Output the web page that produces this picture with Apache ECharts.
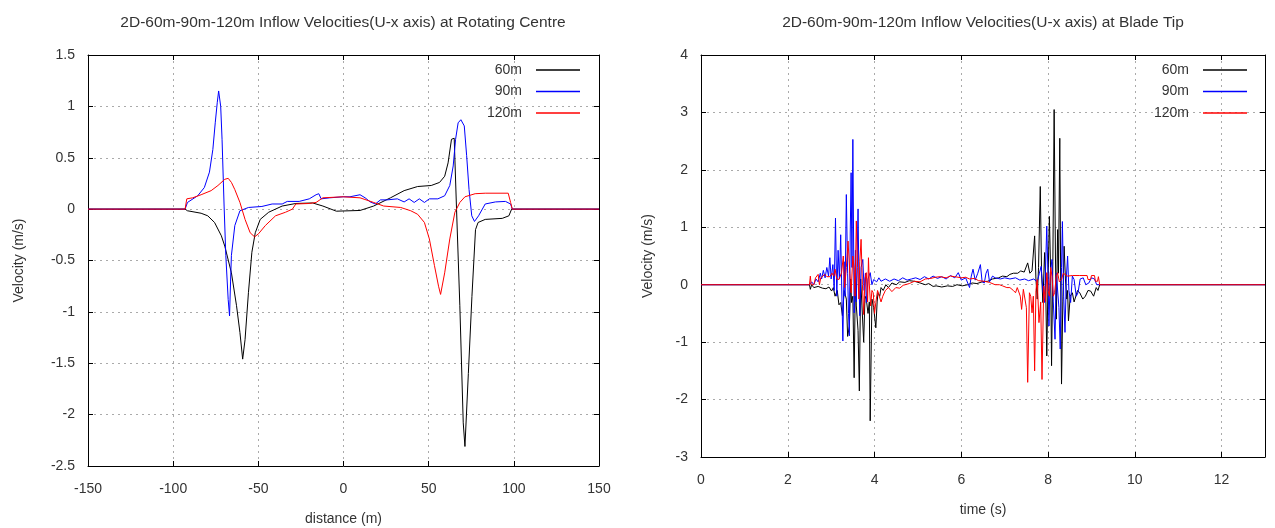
<!DOCTYPE html>
<html>
<head>
<meta charset="utf-8">
<script src="https://cdn.jsdelivr.net/npm/echarts@6/dist/echarts.min.js"></script>
<style>html,body{margin:0;padding:0;background:#fff}#c{width:1275px;height:528px}</style>
</head>
<body>
<div id="c"></div>
<script>
// ---------- DATA ----------
const seriesNames = ['60m', '90m', '120m'];
const titleLeft = '2D-60m-90m-120m Inflow Velocities(U-x axis) at Rotating Centre';
const titleRight = '2D-60m-90m-120m Inflow Velocities(U-x axis) at Blade Tip';

// Left chart: [distance (m), velocity (m/s)]
const centre60 = [[-150,0],[-93,0],[-91.6,-0.016],[-83.6,-0.04],[-79.7,-0.065],[-75.7,-0.13],[-71.7,-0.26],[-69.7,-0.36],[-65.8,-0.62],[-62.8,-0.94],[-60.8,-1.2],[-59.2,-1.46],[-57.8,-1.27],[-55.8,-0.81],[-53.8,-0.42],[-51.8,-0.23],[-48.9,-0.1],[-43.9,-0.03],[-36,0.03],[-28,0.055],[-18.1,0.06],[-12.1,0.03],[-4.2,-0.02],[9.7,-0.013],[17.7,0.03],[27.6,0.11],[35.6,0.18],[43.5,0.22],[51.5,0.23],[56.4,0.26],[59.4,0.32],[61.4,0.45],[63.4,0.68],[65,0.69],[66.3,0.03],[68.3,-0.94],[70.3,-2.08],[71.3,-2.31],[73.3,-1.6],[75.4,-0.85],[77.5,-0.2],[79,-0.13],[83.2,-0.1],[93.2,-0.09],[97.1,-0.065],[98.7,0],[150,0]];
const centre90 = [[-150,0],[-93,0],[-91.6,0.065],[-85.6,0.13],[-81.7,0.21],[-78.7,0.36],[-76.7,0.58],[-75.3,0.84],[-74.1,1.04],[-73.3,1.15],[-72.1,1.0],[-71.3,0.68],[-70.1,0.03],[-69.1,-0.45],[-67.7,-0.88],[-66.9,-1.04],[-66.3,-0.7],[-65.8,-0.45],[-63.8,-0.16],[-60.8,-0.016],[-55.8,0.016],[-47.9,0.026],[-41.9,0.05],[-36,0.05],[-33,0.075],[-26,0.075],[-20.1,0.1],[-16.1,0.14],[-14.5,0.15],[-13.1,0.1],[-8.1,0.11],[-0.2,0.12],[3.8,0.12],[9.7,0.14],[12.7,0.11],[15.7,0.07],[18.7,0.05],[21.7,0.09],[25.6,0.09],[31.6,0.1],[35.6,0.07],[38.5,0.1],[41.5,0.065],[44.5,0.1],[47.5,0.065],[50.4,0.1],[55.4,0.1],[59.4,0.13],[62.4,0.23],[64.4,0.42],[65.8,0.68],[67.3,0.84],[68.9,0.87],[70.9,0.81],[72.3,0.52],[73.7,0.19],[75.3,-0.065],[76.9,-0.12],[79.3,-0.065],[83.2,0.05],[89.2,0.07],[95.1,0.075],[98.1,0.05],[99.1,0],[150,0]];
const centre120 = [[-150,0],[-93,0],[-92,0.1],[-88.6,0.11],[-83.6,0.14],[-77.7,0.18],[-73.7,0.23],[-69.7,0.29],[-67.7,0.3],[-65.8,0.26],[-63.8,0.19],[-60.8,0.065],[-57.8,-0.1],[-54.8,-0.23],[-52.2,-0.27],[-49.9,-0.24],[-45.9,-0.16],[-39.9,-0.065],[-34,-0.03],[-30,0],[-28,0.05],[-20.1,0.055],[-16.1,0.065],[-12.1,0.11],[-0.2,0.12],[9.7,0.11],[17.7,0.065],[23.6,0.03],[33.6,0.016],[39.5,-0.016],[43.5,-0.05],[47.5,-0.13],[50.4,-0.29],[53.4,-0.55],[55.8,-0.75],[57,-0.83],[59.4,-0.62],[62.4,-0.29],[65.4,-0.03],[68.3,0.065],[71.3,0.12],[77.3,0.15],[83.2,0.155],[96.7,0.155],[98.1,0.065],[99.1,0],[150,0]];

// Right chart: [time (s), velocity (m/s)]
const tip60 = [[0,0],[2.5,0],[2.52,-0.08],[2.55,0],[2.6,-0.05],[2.7,-0.03],[2.8,-0.06],[2.88,-0.07],[2.95,-0.04],[3.01,-0.11],[3.05,-0.05],[3.09,-0.2],[3.14,-0.1],[3.18,-0.35],[3.22,-0.31],[3.26,-0.54],[3.3,-0.1],[3.35,-0.25],[3.38,-0.9],[3.42,-0.72],[3.45,0.1],[3.47,-0.31],[3.5,-0.2],[3.53,-1.62],[3.56,0.2],[3.58,-0.37],[3.62,-0.8],[3.65,-1.85],[3.68,0.1],[3.71,-0.37],[3.75,-1.0],[3.78,-0.2],[3.81,-0.25],[3.85,-0.5],[3.88,-0.3],[3.9,-2.37],[3.94,-0.25],[3.98,-0.4],[4.03,-0.75],[4.06,-0.3],[4.08,-0.14],[4.12,-0.2],[4.15,-0.05],[4.2,-0.1],[4.26,0.0],[4.32,-0.05],[4.4,0.03],[4.5,0.0],[4.58,0.05],[4.7,0.04],[4.8,0.07],[4.92,0.06],[5.05,0.03],[5.17,0.0],[5.25,0.02],[5.35,-0.03],[5.42,-0.02],[5.55,-0.04],[5.68,-0.02],[5.8,-0.03],[5.9,0.0],[6.02,-0.02],[6.15,0.0],[6.25,0.03],[6.36,0.02],[6.48,0.05],[6.61,0.06],[6.72,0.1],[6.86,0.12],[6.95,0.15],[7.05,0.14],[7.12,0.18],[7.2,0.2],[7.3,0.2],[7.37,0.24],[7.45,0.22],[7.53,0.38],[7.58,0.2],[7.63,0.24],[7.69,0.85],[7.72,0.1],[7.75,-0.25],[7.78,0.3],[7.82,1.71],[7.85,0.2],[7.88,-0.31],[7.92,0.56],[7.94,0.2],[7.97,-1.24],[8.0,0.1],[8.03,1.19],[8.06,0.2],[8.08,-1.41],[8.11,0.4],[8.14,3.05],[8.17,0.5],[8.19,-0.6],[8.22,0.96],[8.24,0.2],[8.27,2.55],[8.29,0.1],[8.31,-1.73],[8.34,-0.3],[8.37,0.67],[8.4,0.1],[8.43,-0.25],[8.45,-0.1],[8.47,-0.63],[8.51,-0.2],[8.56,-0.14],[8.6,-0.3],[8.64,-0.28],[8.68,-0.1],[8.73,-0.14],[8.8,-0.25],[8.86,-0.2],[8.92,-0.1],[8.98,-0.11],[9.05,-0.2],[9.11,-0.05],[9.15,-0.1],[9.19,0],[13,0]];
const tip90 = [[0,0],[2.5,0],[2.55,0.05],[2.6,0],[2.65,0.1],[2.7,0.05],[2.75,0.2],[2.78,0.1],[2.82,0.25],[2.86,0.12],[2.9,0.3],[2.94,0.15],[2.97,0.47],[3.0,0.1],[3.04,0.35],[3.07,-0.1],[3.1,1.16],[3.13,-0.2],[3.16,0.6],[3.19,0.1],[3.22,0.87],[3.25,-0.3],[3.27,-0.98],[3.3,0.4],[3.32,-0.2],[3.35,1.57],[3.38,0.2],[3.4,-0.5],[3.42,-0.89],[3.44,0.9],[3.46,1.95],[3.48,0.3],[3.5,2.53],[3.53,-0.49],[3.56,0.6],[3.58,-0.3],[3.62,1.32],[3.64,0.1],[3.66,-0.54],[3.69,0.3],[3.73,0.44],[3.76,-0.1],[3.79,0.2],[3.81,-0.31],[3.85,0.1],[3.9,0.21],[3.94,0.0],[3.98,0.09],[4.05,0.05],[4.1,0.12],[4.15,0.06],[4.25,0.1],[4.35,0.06],[4.45,0.1],[4.55,0.07],[4.65,0.12],[4.75,0.08],[4.85,0.1],[4.95,0.12],[5.05,0.09],[5.15,0.14],[5.25,0.1],[5.35,0.15],[5.45,0.11],[5.55,0.14],[5.65,0.1],[5.75,0.16],[5.85,0.12],[5.93,0.21],[6.0,0.08],[6.1,0.12],[6.19,-0.05],[6.23,0.15],[6.27,0.27],[6.32,0.08],[6.38,0.2],[6.44,0.35],[6.48,0.05],[6.53,0.03],[6.57,0.2],[6.61,0.27],[6.65,0.05],[6.72,0.15],[6.78,0.12],[6.9,0.1],[7.0,0.12],[7.12,0.1],[7.25,0.12],[7.35,0.08],[7.46,0.1],[7.55,0.07],[7.67,0.1],[7.75,0.05],[7.8,0.2],[7.84,0.32],[7.88,-0.1],[7.92,-0.31],[7.95,0.5],[7.97,1.02],[8.0,0.1],[8.02,-0.72],[8.05,0.2],[8.09,0.44],[8.12,-0.3],[8.16,-0.95],[8.19,0.2],[8.22,0.21],[8.25,-0.4],[8.28,-1.12],[8.31,0.3],[8.33,1.1],[8.36,-0.2],[8.39,-0.83],[8.42,0.1],[8.45,0.5],[8.48,-0.1],[8.52,-0.31],[8.56,0.15],[8.6,0.09],[8.65,-0.2],[8.69,-0.14],[8.74,0.1],[8.81,0.12],[8.87,0.0],[8.94,0.03],[9.0,0.12],[9.07,0.1],[9.12,0.0],[9.15,0.03],[9.19,0],[13,0]];
const tip120 = [[0,0],[2.5,0],[2.52,0.15],[2.54,0],[2.6,0.0],[2.64,0.12],[2.67,0.1],[2.7,0.18],[2.73,0],[2.76,0.12],[2.8,0.12],[2.85,0.18],[2.9,0.14],[2.97,0.14],[3.02,0.2],[3.06,0.15],[3.09,0.27],[3.13,0.1],[3.18,0.09],[3.24,0.21],[3.28,0.5],[3.31,-0.05],[3.35,0.3],[3.39,0.76],[3.43,0.2],[3.46,-0.14],[3.5,0.5],[3.53,0.27],[3.55,-0.2],[3.58,1.11],[3.61,0.3],[3.64,-0.25],[3.66,0.4],[3.69,0.79],[3.72,0.0],[3.75,-0.52],[3.78,0.1],[3.81,0.21],[3.84,-0.3],[3.86,0.47],[3.88,0.0],[3.91,-0.37],[3.94,-0.1],[3.97,-0.14],[4.0,-0.5],[4.03,-0.31],[4.07,-0.1],[4.11,-0.08],[4.15,-0.3],[4.19,-0.2],[4.25,-0.1],[4.32,-0.05],[4.4,-0.12],[4.49,-0.05],[4.58,-0.06],[4.66,-0.01],[4.8,0.02],[4.92,0.06],[5.05,0.05],[5.17,0.1],[5.3,0.11],[5.4,0.13],[5.51,0.14],[5.65,0.12],[5.75,0.15],[5.85,0.14],[6.0,0.12],[6.1,0.13],[6.19,0.1],[6.3,0.11],[6.4,0.07],[6.53,0.06],[6.65,0.04],[6.78,0.0],[6.88,0.0],[6.95,-0.02],[7.05,-0.05],[7.12,-0.05],[7.2,-0.1],[7.25,-0.14],[7.29,-0.05],[7.33,-0.05],[7.36,-0.2],[7.39,-0.43],[7.43,-0.08],[7.46,-0.08],[7.5,-0.4],[7.53,-1.7],[7.57,-0.14],[7.6,-0.2],[7.63,-0.49],[7.66,-0.2],[7.69,-1.5],[7.72,-0.1],[7.75,0.09],[7.79,-0.66],[7.83,-0.3],[7.86,-1.65],[7.9,-0.02],[7.94,-0.3],[7.97,0.21],[8.0,-0.1],[8.03,-0.2],[8.06,0.3],[8.09,0.15],[8.12,-0.2],[8.15,-0.14],[8.19,0.15],[8.22,0.21],[8.26,0.05],[8.31,0.09],[8.35,0.2],[8.39,0.18],[8.45,0.15],[8.56,0.16],[8.73,0.16],[8.9,0.16],[8.92,0.09],[8.98,0.09],[9.0,0.16],[9.07,0.16],[9.09,0.06],[9.14,0.06],[9.16,0.14],[9.19,0],[13,0]];

// Axis settings
const leftX = {min: -150, max: 150, interval: 50, name: 'distance (m)'};
const leftY = {min: -2.5, max: 1.5, interval: 0.5, name: 'Velocity (m/s)'};
const rightX = {min: 0, max: 13, interval: 2, name: 'time (s)'};
const rightY = {min: -3, max: 4, interval: 1, name: 'Velocity (m/s)'};
const colors = ['#000000', '#0000ff', '#ff0000'];

// ---------- CHART ----------
const FONT = 'Liberation Sans';
const chart = echarts.init(document.getElementById('c'), null, {renderer: 'canvas'});

function mainAxis(cfg, gridIndex, isX, nameGap, pos) {
  return {
    type: 'value', gridIndex, min: cfg.min, max: cfg.max, interval: cfg.interval,
    position: pos,
    name: cfg.name, nameLocation: 'middle', nameGap,
    nameTextStyle: {color: '#333', fontSize: 14, fontFamily: FONT},
    axisLine: {show: true, onZero: false, lineStyle: {color: '#000', width: 1}},
    axisTick: {show: true, inside: true, length: 5, lineStyle: {color: '#000'}},
    axisLabel: {color: '#333', fontSize: 14, fontFamily: FONT, margin: isX ? 16 : 13, showMaxLabel: cfg.max % cfg.interval === 0},
    splitLine: {show: true, lineStyle: {color: '#aaaaaa', type: [2, 4], width: 1}}
  };
}
function mirrorAxis(cfg, gridIndex, pos) {
  return {
    type: 'value', gridIndex, min: cfg.min, max: cfg.max, interval: cfg.interval, position: pos,
    axisLine: {show: true, onZero: false, lineStyle: {color: '#000', width: 1}},
    axisTick: {show: true, inside: true, length: 5, lineStyle: {color: '#000'}},
    axisLabel: {show: false}, splitLine: {show: false}
  };
}
function lineSeries(name, data, xi, yi, color) {
  return {
    type: 'line', name, data, xAxisIndex: xi, yAxisIndex: yi,
    showSymbol: false, symbol: 'none', animation: false,
    lineStyle: {color, width: 1}, itemStyle: {color}, z: 3
  };
}
function legend(right) {
  return {
    orient: 'vertical', align: 'right', right, top: 58,
    data: seriesNames, icon: 'rect', itemWidth: 44, itemHeight: 1.5, itemGap: 7.5,
    textStyle: {color: '#333', fontSize: 14, fontFamily: FONT, padding: [0, 9, 0, 0]},
    selectedMode: false
  };
}

const option = {
  backgroundColor: '#fff',
  animation: false,
  title: [
    {text: titleLeft, left: 338, top: 10, textAlign: 'center', textStyle: {color: '#333', fontSize: 15.5, fontWeight: 'normal', fontFamily: FONT}},
    {text: titleRight, left: 978, top: 10, textAlign: 'center', textStyle: {color: '#333', fontSize: 15.5, fontWeight: 'normal', fontFamily: FONT}}
  ],
  legend: [legend(690), legend(23)],
  grid: [
    {left: 88, top: 55, width: 511, height: 411, outerBoundsMode: 'none', containLabel: false},
    {left: 701, top: 55, width: 564, height: 402, outerBoundsMode: 'none', containLabel: false}
  ],
  xAxis: [
    mainAxis(leftX, 0, true, 46, 'bottom'),
    mirrorAxis(leftX, 0, 'top'),
    mainAxis(rightX, 1, true, 46, 'bottom'),
    mirrorAxis(rightX, 1, 'top')
  ],
  yAxis: [
    mainAxis(leftY, 0, false, 62, 'left'),
    mirrorAxis(leftY, 0, 'right'),
    mainAxis(rightY, 1, false, 46, 'left'),
    mirrorAxis(rightY, 1, 'right')
  ],
  series: [
    lineSeries(seriesNames[0], centre60, 0, 0, colors[0]),
    lineSeries(seriesNames[1], centre90, 0, 0, colors[1]),
    lineSeries(seriesNames[2], centre120, 0, 0, colors[2]),
    lineSeries(seriesNames[0], tip60, 2, 2, colors[0]),
    lineSeries(seriesNames[1], tip90, 2, 2, colors[1]),
    lineSeries(seriesNames[2], tip120, 2, 2, colors[2])
  ]
};
chart.setOption(option);
</script>
</body>
</html>
